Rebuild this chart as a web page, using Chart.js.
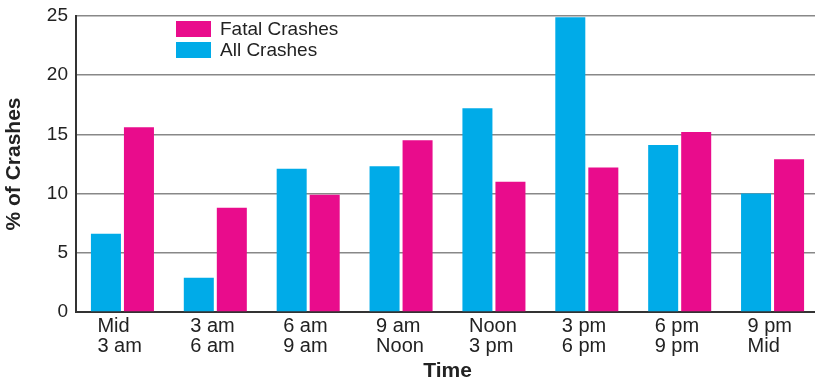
<!DOCTYPE html>
<html>
<head>
<meta charset="utf-8">
<script src="https://cdn.jsdelivr.net/npm/chart.js@4"></script>
<style>
  html, body { margin: 0; padding: 0; background: #fff; overflow: hidden; }
  #wrap { width: 819px; height: 382px; position: relative; }
</style>
</head>
<body>
<div id="wrap"><canvas id="chart"></canvas></div>
<script>
// Share of crashes by three-hour time of day
const timeSlots = [
  ['Mid', '3 am'], ['3 am', '6 am'], ['6 am', '9 am'], ['9 am', 'Noon'],
  ['Noon', '3 pm'], ['3 pm', '6 pm'], ['6 pm', '9 pm'], ['9 pm', 'Mid']
];
const allCrashes   = [6.6, 2.9, 12.1, 12.3, 17.2, 24.9, 14.1, 10.0];
const fatalCrashes = [15.6, 8.8, 9.9, 14.5, 11.0, 12.2, 15.2, 12.9];
const yTicks = [0, 5, 10, 15, 20, 25];

const BLUE = '#00abe8';
const PINK = '#e90c8c';
const FONT = "'Liberation Sans', Arial, Helvetica, sans-serif";
Chart.defaults.font.family = FONT;

// Legend stacked inside the plot area, fatal crashes listed first
const insideLegend = {
  id: 'insideLegend',
  afterDatasetsDraw(chart) {
    const { ctx, chartArea } = chart;
    const items = chart.data.datasets.slice().reverse();
    const x0 = chartArea.left + 100;
    let y0 = chartArea.top + 5;
    ctx.save();
    ctx.font = '19px ' + FONT;
    ctx.textBaseline = 'middle';
    ctx.textAlign = 'left';
    items.forEach(ds => {
      ctx.fillStyle = ds.backgroundColor;
      ctx.fillRect(x0, y0, 35, 16);
      ctx.fillStyle = '#222';
      ctx.fillText(ds.label, x0 + 44, y0 + 8.5);
      y0 += 21;
    });
    ctx.restore();
  }
};

new Chart(document.getElementById('chart'), {
  type: 'bar',
  data: {
    labels: timeSlots,
    datasets: [
      { label: 'All Crashes', data: allCrashes, backgroundColor: BLUE,
        categoryPercentage: 0.711, barPercentage: 0.909 },
      { label: 'Fatal Crashes', data: fatalCrashes, backgroundColor: PINK,
        categoryPercentage: 0.711, barPercentage: 0.909 }
    ]
  },
  options: {
    responsive: true,
    maintainAspectRatio: false,
    animation: false,
    layout: { padding: { top: 16, right: 0, left: 0, bottom: 0 } },
    plugins: {
      legend: { display: false },
      tooltip: { enabled: false }
    },
    scales: {
      x: {
        grid: { display: false, drawTicks: false },
        border: { display: true, color: '#333', width: 2 },
        ticks: {
          color: '#222',
          font: { size: 20, lineHeight: 0.97 },
          align: 'start',
          labelOffset: -25,
          padding: 5,
          maxRotation: 0,
          autoSkip: false
        },
        title: {
          display: true,
          text: 'Time',
          color: '#222',
          font: { size: 21, weight: 'bold', lineHeight: 1.0 },
          padding: { top: 0, bottom: 0 }
        },
        afterFit(scale) {
          scale.height = 70;
          scale.paddingLeft = 0;
          scale.paddingRight = 0;
        }
      },
      y: {
        min: 0,
        max: 25,
        afterBuildTicks(scale) { scale.ticks = yTicks.map(v => ({ value: v })); },
        grid: { color: '#888', lineWidth: 1.5, drawTicks: false },
        border: { display: true, color: '#333', width: 2 },
        ticks: {
          color: '#222',
          font: { size: 19 },
          padding: 8
        },
        title: {
          display: true,
          text: '% of Crashes',
          color: '#222',
          font: { size: 21, weight: 'bold', lineHeight: 1.2 },
          padding: { top: 2, bottom: 0 }
        },
        afterFit(scale) {
          scale.width = 76;
          scale.paddingTop = 0;
          scale.paddingBottom = 0;
        }
      }
    }
  },
  plugins: [insideLegend]
});
</script>
</body>
</html>
